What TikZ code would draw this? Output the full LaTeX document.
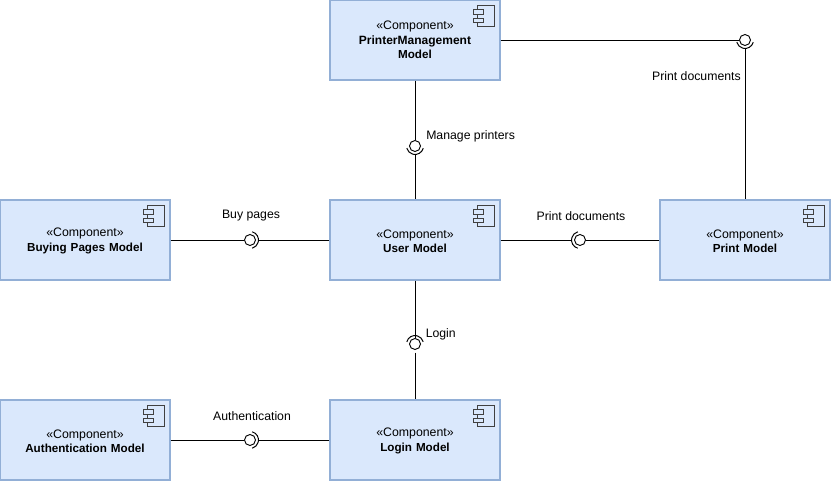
\documentclass[tikz,border=0pt]{standalone}
\usepackage{fontspec}
\usetikzlibrary{calc}
\setmainfont{Liberation Sans}
\definecolor{boxfill}{HTML}{DAE8FC}
\definecolor{boxline}{HTML}{92AFD6}
\definecolor{iconline}{HTML}{404040}
\newcommand{\stereoplain}{{\fontsize{9.25}{11}\selectfont «Component»}}
\newcommand{\stereo}{\rule{0pt}{8.2pt}\stereoplain}
\newcommand{\ttl}[1]{{\fontsize{8.75}{11}\selectfont\bfseries #1}}
\tikzset{
  x=0.75pt,y=-0.75pt,
  comp/.style={draw=boxline,fill=boxfill,line width=0.85pt,minimum width=127.5pt,minimum height=60pt,inner sep=0pt,align=center,text width=120pt,font=\fontsize{9}{11}\selectfont},
  ball/.style={circle,draw=black,fill=white,line width=0.7pt,minimum size=8.25pt,inner sep=0pt},
  wire/.style={draw=black,line width=0.75pt},
  sock/.style={draw=black,line width=0.75pt},
  lbl/.style={inner sep=0pt,font=\fontsize{9.2}{11}\selectfont},
  ico/.style={draw=iconline,line width=0.75pt,fill=boxfill}
}
\newcommand{\compicon}[1]{%
  \draw[ico] ([xshift=-17pt,yshift=-4.6pt]#1.north east) rectangle ([xshift=-4.6pt,yshift=-20.25pt]#1.north east);
  \draw[ico] ([xshift=-20.25pt,yshift=-7.6pt]#1.north east) rectangle ([xshift=-13pt,yshift=-11pt]#1.north east);
  \draw[ico] ([xshift=-20.25pt,yshift=-14pt]#1.north east) rectangle ([xshift=-13pt,yshift=-17.4pt]#1.north east);}
\begin{document}
\begin{tikzpicture}
\useasboundingbox (0,0) rectangle (832,482);
\node[comp] (pm) at (415,40) {\stereoplain\\{\fontsize{9}{11}\selectfont\bfseries PrinterManagement}\\\ttl{Model}};
\node[comp] (buy) at (85,240) {\stereo\\\ttl{Buying Pages Model}};
\node[comp] (user) at (415,240) {\stereo\\\ttl{User Model}};
\node[comp] (print) at (745,240) {\stereo\\\ttl{Print Model}};
\node[comp] (auth) at (85,440) {\stereo\\\ttl{Authentication Model}};
\node[comp] (login) at (415,440) {\stereo\\\ttl{Login Model}};
\foreach \n in {pm,buy,user,print,auth,login}{\compicon{\n}}

\node[ball] (b1) at (415,146) {};
\node[ball] (b2) at (745,40) {};
\node[ball] (b3) at (580,240) {};
\node[ball] (b4) at (250,240) {};
\node[ball] (b5) at (415,344) {};
\node[ball] (b6) at (250,440) {};

% sockets (y axis points down, so positive angles open below the ball)
\draw[sock] (b1.center) ++(15:8.5) arc (15:165:8.5);
\draw[sock] (b2.center) ++(15:8.5) arc (15:165:8.5);
\draw[sock] (b3.center) ++(105:8.5) arc (105:255:8.5);
\draw[sock] (b4.center) ++(-75:8.5) arc (-75:75:8.5);
\draw[sock] (b5.center) ++(195:8.5) arc (195:345:8.5);
\draw[sock] (b6.center) ++(-75:8.5) arc (-75:75:8.5);
\coordinate (s1) at ($(b1.center)+(0,8.5)$);
\coordinate (s2) at ($(b2.center)+(0,8.5)$);
\coordinate (s3) at ($(b3.center)+(-8.5,0)$);
\coordinate (s4) at ($(b4.center)+(8.5,0)$);
\coordinate (s5) at ($(b5.center)+(0,8.5)$);
\coordinate (s6) at ($(b6.center)+(8.5,0)$);

\draw[wire] (pm.south) -- (b1.north);
\draw[wire] (s1) -- (user.north);
\draw[wire] (pm.east) -- (b2.west);
\draw[wire] (s2) -- (print.north);
\draw[wire] (user.east) -- (s3);
\draw[wire] (b3.east) -- (print.west);
\draw[wire] (buy.east) -- (b4.west);
\draw[wire] (s4) -- (user.west);
\draw[wire] (user.south) -- (b5.north);
\draw[wire] (s5) -- (login.north);
\draw[wire] (auth.east) -- (b6.west);
\draw[wire] (s6) -- (login.west);

\node[lbl,anchor=west] (t1) at (426,136) {Manage printers};
\node[lbl,anchor=east] (t2) at (741,76) {Print documents};
\node[lbl] (t3) at (581,216) {Print documents};
\node[lbl] (t4) at (251,216) {Buy pages};
\node[lbl,anchor=west] (t5) at (425.5,334) {Login};
\node[lbl] (t6) at (252,416) {Authentication};
\end{tikzpicture}
\end{document}
